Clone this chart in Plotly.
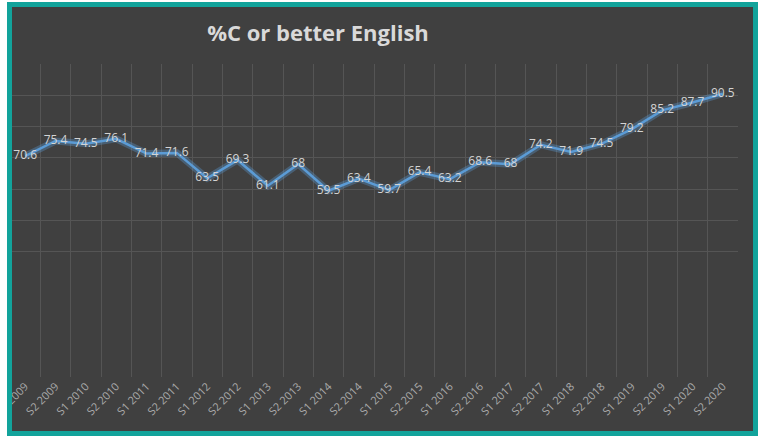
import plotly.graph_objects as go

# ---- data ----
categories = [
    "S1 2009", "S2 2009", "S1 2010", "S2 2010", "S1 2011", "S2 2011",
    "S1 2012", "S2 2012", "S1 2013", "S2 2013", "S1 2014", "S2 2014",
    "S1 2015", "S2 2015", "S1 2016", "S2 2016", "S1 2017", "S2 2017",
    "S1 2018", "S2 2018", "S1 2019", "S2 2019", "S1 2020", "S2 2020",
]
pct_c_or_better = [
    70.6, 75.4, 74.5, 76.1, 71.4, 71.6,
    63.5, 69.3, 61.1, 68.0, 59.5, 63.4,
    59.7, 65.4, 63.2, 68.6, 68.0, 74.2,
    71.9, 74.5, 79.2, 85.2, 87.7, 90.5,
]
title_text = "%C or better English"

# ---- layout geometry ----
W, H = 762, 436
ML, MR, MT, MB = 10, 24, 64, 59
PW, PH = W - ML - MR, H - MT - MB


def px_x(px):
    return (px - ML) / PW


def px_y(py):
    return (H - MB - py) / PH


BG = "#404040"
TEAL = "#12a39b"
FONT = "Open Sans, Liberation Sans, sans-serif"

xs = list(range(len(categories)))

fig = go.Figure()
# soft glow under the line
fig.add_trace(go.Scatter(
    x=xs, y=pct_c_or_better, mode="lines",
    line=dict(color="rgba(91,155,213,0.35)", width=7),
    hoverinfo="skip", showlegend=False,
))
fig.add_trace(go.Scatter(
    x=xs, y=pct_c_or_better, mode="lines+text",
    line=dict(color="#5b9bd5", width=2.5),
    text=[("%g" % v) for v in pct_c_or_better],
    textposition="middle center",
    textfont=dict(family=FONT, size=12, color="#d4d4d4"),
    showlegend=False,
))

fig.update_layout(
    width=W, height=H,
    margin=dict(l=ML, r=MR, t=MT, b=MB, autoexpand=False),
    paper_bgcolor="white",
    plot_bgcolor="rgba(0,0,0,0)",
    title=dict(
        text="<b>" + title_text + "</b>",
        x=px_x(318), xref="paper", xanchor="center",
        y=1 - 33 / H, yref="container", yanchor="middle",
        font=dict(family=FONT, size=22, color="#d9d9d9"),
        automargin=False,
    ),
    xaxis=dict(
        range=[-0.5, len(categories) - 0.5],
        tickmode="array", tickvals=xs, ticktext=categories,
        tickangle=-45, ticklabeloverflow="allow", automargin=False,
        tickfont=dict(family=FONT, size=11, color="#ababab"),
        showgrid=False, zeroline=False, showline=False, ticks="",
        minor=dict(tick0=0.5, dtick=1, showgrid=True, gridcolor="#555555", gridwidth=1),
        fixedrange=True,
    ),
    yaxis=dict(
        range=[0, 100], automargin=False,
        tickmode="array", tickvals=[40, 50, 60, 70, 80, 90, 100],
        showticklabels=False, showgrid=True, gridcolor="#555555", gridwidth=1,
        zeroline=False, showline=False, ticks="",
        fixedrange=True,
    ),
    shapes=[
        dict(type="rect", xref="paper", yref="paper", layer="below",
             x0=px_x(9), x1=px_x(755), y0=px_y(433), y1=px_y(5),
             fillcolor=BG, line=dict(width=0)),
        dict(type="rect", xref="paper", yref="paper", layer="above",
             x0=px_x(0), x1=px_x(7), y0=px_y(436), y1=px_y(0),
             fillcolor="white", line=dict(width=0)),
        dict(type="rect", xref="paper", yref="paper", layer="above",
             x0=px_x(9.5), x1=px_x(755.5), y0=px_y(433.5), y1=px_y(4.5),
             fillcolor="rgba(0,0,0,0)", line=dict(color=TEAL, width=5)),
    ],
)

fig.write_html("out.html", config={"displayModeBar": False})

# remove the default page margin so the figure sits at the window's top-left
with open("out.html", "r", encoding="utf-8") as f:
    html = f.read()
html = html.replace("<head>", "<head><style>html,body{margin:0;padding:0;overflow:hidden;}</style>", 1)
with open("out.html", "w", encoding="utf-8") as f:
    f.write(html)
